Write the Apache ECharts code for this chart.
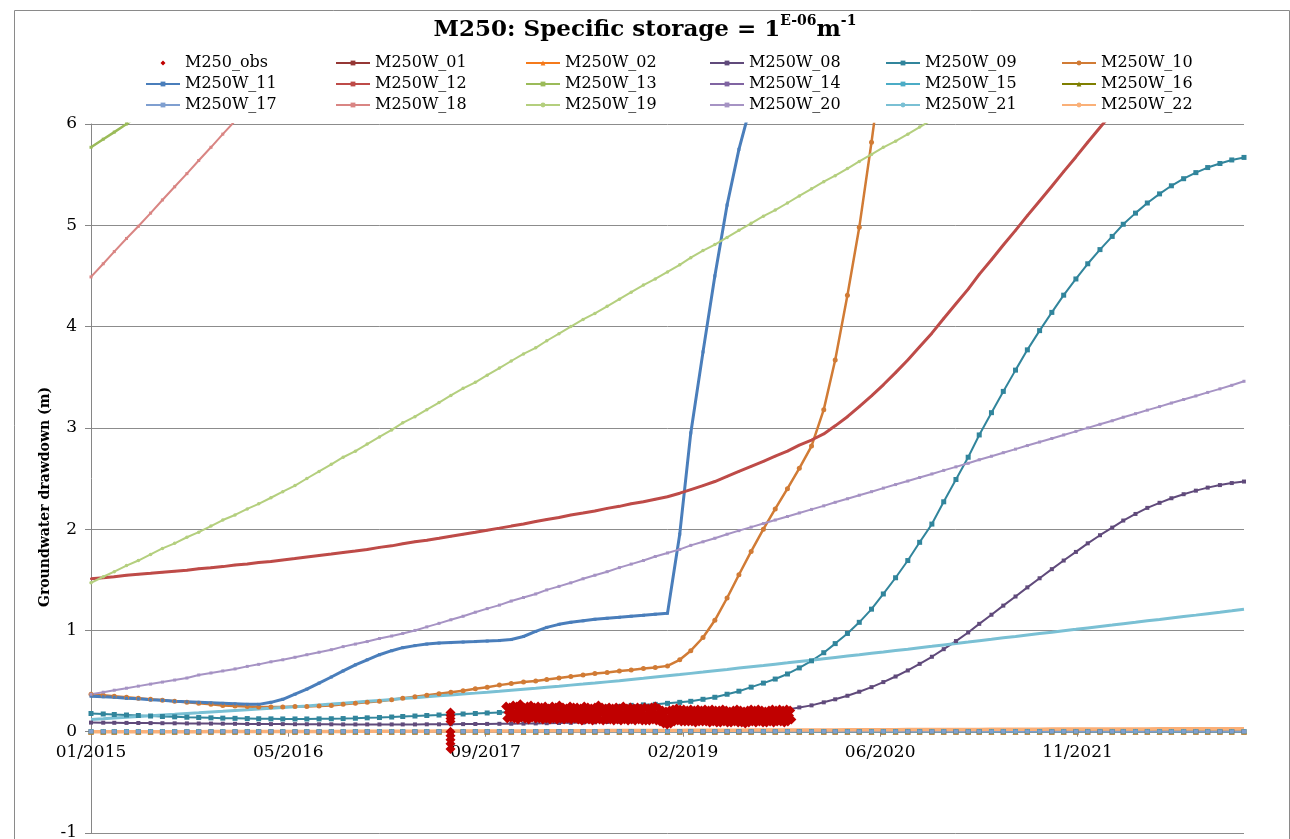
<!DOCTYPE html>
<html><head><meta charset="utf-8">
<script src="https://cdn.jsdelivr.net/npm/echarts@6/dist/echarts.min.js"></script>
<style>html,body{margin:0;padding:0;background:#fff}#c{width:1290px;height:839px}</style>
</head><body><div id="c"></div>
<script>
// ---- data (monthly model values, first value = 01/2015) ----
const seriesNames = ['M250_obs','M250W_01','M250W_02','M250W_08','M250W_09','M250W_10','M250W_11','M250W_12','M250W_13','M250W_14','M250W_15','M250W_16','M250W_17','M250W_18','M250W_19','M250W_20','M250W_21','M250W_22'];
const xTickDays = 500; // Excel major unit (days)
const startDate = Date.UTC(2015,0,1);
const endDate = Date.UTC(2023,0,1);

const w01 = [0,0,0,0,0,0,0,0,0,0,0,0,0,0,0,0,0,0,0,0,0,0,0,0,0,0,0,0,0,0,0,0,0,0,0,0,0,0,0,0,0,0,0,0,0,0,0,0,0,0,0,0,0,0,0,0,0,0,0,0,0,0,0,0,0,0,0,0,0,0,0,0,0,0,0,0,0,0,0,0,0,0,0,0,0,0,0,0,0,0,0,0,0,0,0,0,0];
const w02 = [0,0,0,0,0,0,0,0,0,0,0,0,0,0,0,0,0,0,0,0,0,0,0,0,0,0,0,0,0,0,0,0,0,0,0,0,0,0,0,0,0,0,0,0,0,0,0,0,0,0,0,0,0,0,0,0,0,0,0,0,0,0,0,0,0,0,0,0,0,0,0,0,0,0,0,0,0,0,0,0,0,0,0,0,0,0,0,0,0,0,0,0,0,0,0,0,0];
const w08 = [0.09,0.089,0.088,0.087,0.086,0.085,0.084,0.083,0.082,0.081,0.08,0.079,0.078,0.077,0.076,0.075,0.075,0.074,0.074,0.073,0.073,0.072,0.072,0.072,0.072,0.072,0.072,0.072,0.073,0.073,0.074,0.075,0.076,0.077,0.078,0.079,0.08,0.082,0.084,0.086,0.088,0.09,0.093,0.096,0.099,0.102,0.106,0.11,0.115,0.12,0.126,0.133,0.141,0.15,0.16,0.172,0.186,0.202,0.22,0.24,0.26,0.29,0.32,0.355,0.395,0.44,0.49,0.545,0.605,0.67,0.74,0.815,0.895,0.98,1.065,1.155,1.245,1.335,1.425,1.515,1.605,1.69,1.775,1.86,1.94,2.015,2.085,2.15,2.21,2.26,2.305,2.345,2.38,2.41,2.435,2.455,2.47];
const w09 = [0.18,0.175,0.17,0.165,0.16,0.155,0.15,0.147,0.143,0.14,0.137,0.134,0.132,0.13,0.128,0.127,0.126,0.126,0.126,0.127,0.128,0.13,0.133,0.137,0.14,0.145,0.15,0.155,0.16,0.165,0.17,0.175,0.18,0.185,0.19,0.195,0.20,0.205,0.21,0.215,0.22,0.23,0.24,0.245,0.25,0.26,0.265,0.27,0.28,0.29,0.30,0.32,0.34,0.37,0.40,0.44,0.48,0.52,0.57,0.63,0.70,0.78,0.87,0.97,1.08,1.21,1.36,1.52,1.69,1.87,2.05,2.27,2.49,2.71,2.93,3.15,3.36,3.57,3.77,3.96,4.14,4.31,4.47,4.62,4.76,4.89,5.01,5.12,5.22,5.31,5.39,5.46,5.52,5.57,5.61,5.645,5.67];
const w10 = [0.37,0.36,0.35,0.34,0.33,0.32,0.31,0.30,0.29,0.28,0.27,0.26,0.255,0.25,0.245,0.245,0.245,0.25,0.25,0.255,0.26,0.27,0.28,0.29,0.30,0.315,0.33,0.345,0.36,0.375,0.39,0.405,0.425,0.44,0.46,0.475,0.49,0.50,0.515,0.53,0.545,0.56,0.575,0.585,0.60,0.61,0.625,0.635,0.65,0.71,0.80,0.93,1.10,1.32,1.55,1.78,2.0,2.2,2.4,2.6,2.82,3.18,3.67,4.31,4.98,5.82,6.7];
const w11 = [0.35,0.345,0.34,0.33,0.325,0.315,0.31,0.30,0.295,0.29,0.285,0.28,0.275,0.27,0.27,0.29,0.32,0.37,0.42,0.48,0.54,0.60,0.66,0.71,0.76,0.80,0.83,0.85,0.865,0.875,0.88,0.885,0.89,0.895,0.90,0.91,0.94,0.99,1.03,1.06,1.08,1.095,1.11,1.12,1.13,1.14,1.15,1.16,1.17,1.95,2.95,3.75,4.5,5.2,5.75,6.2];
const w12 = [1.51,1.52,1.53,1.545,1.555,1.565,1.575,1.585,1.595,1.61,1.62,1.63,1.645,1.655,1.67,1.68,1.695,1.71,1.725,1.74,1.755,1.77,1.785,1.80,1.82,1.835,1.855,1.875,1.89,1.91,1.93,1.95,1.97,1.99,2.01,2.03,2.05,2.075,2.095,2.115,2.14,2.16,2.18,2.205,2.225,2.25,2.27,2.295,2.32,2.355,2.39,2.43,2.47,2.52,2.57,2.62,2.67,2.72,2.77,2.83,2.88,2.94,3.02,3.11,3.21,3.315,3.425,3.545,3.67,3.80,3.935,4.08,4.225,4.37,4.515,4.66,4.805,4.95,5.095,5.24,5.385,5.53,5.675,5.82,5.965,6.11];
const w13 = [5.77,5.85,5.92,6.0,6.08];
const w14 = w01.slice();
const w15 = w01.slice();
const w16 = w01.slice();
const w17 = w01.slice();
const w18 = [4.49,4.62,4.74,4.87,4.99,5.12,5.25,5.38,5.51,5.64,5.77,5.90,6.03,6.16];
const w19 = [1.47,1.53,1.58,1.64,1.69,1.75,1.81,1.86,1.92,1.97,2.03,2.09,2.14,2.20,2.25,2.31,2.37,2.43,2.50,2.57,2.64,2.71,2.77,2.84,2.91,2.98,3.05,3.11,3.18,3.25,3.32,3.39,3.45,3.52,3.59,3.66,3.73,3.79,3.86,3.93,4.00,4.07,4.13,4.20,4.27,4.34,4.41,4.47,4.54,4.61,4.68,4.75,4.81,4.88,4.95,5.02,5.09,5.15,5.22,5.29,5.36,5.43,5.49,5.56,5.63,5.70,5.77,5.83,5.90,5.97,6.04,6.11];
const w20 = [0.37,0.39,0.41,0.43,0.45,0.47,0.49,0.51,0.53,0.56,0.58,0.60,0.62,0.645,0.665,0.69,0.71,0.735,0.76,0.785,0.81,0.84,0.865,0.89,0.92,0.945,0.97,1.0,1.035,1.07,1.105,1.14,1.18,1.215,1.25,1.29,1.325,1.36,1.40,1.435,1.47,1.51,1.545,1.58,1.62,1.655,1.69,1.73,1.765,1.80,1.84,1.875,1.91,1.95,1.985,2.02,2.055,2.09,2.125,2.16,2.195,2.23,2.265,2.30,2.335,2.37,2.405,2.44,2.475,2.51,2.545,2.58,2.615,2.65,2.685,2.72,2.755,2.79,2.825,2.86,2.895,2.93,2.965,3.0,3.035,3.07,3.105,3.14,3.175,3.21,3.245,3.28,3.315,3.35,3.385,3.42,3.46];
const w21 = [0.12,0.127,0.135,0.142,0.15,0.157,0.165,0.172,0.18,0.187,0.195,0.202,0.21,0.217,0.225,0.232,0.24,0.247,0.255,0.264,0.273,0.282,0.291,0.30,0.309,0.318,0.327,0.336,0.345,0.354,0.363,0.372,0.381,0.39,0.40,0.41,0.42,0.43,0.44,0.45,0.46,0.47,0.48,0.492,0.504,0.516,0.528,0.54,0.552,0.564,0.576,0.589,0.602,0.615,0.628,0.641,0.654,0.667,0.68,0.693,0.706,0.72,0.733,0.747,0.76,0.774,0.787,0.801,0.815,0.829,0.843,0.857,0.871,0.885,0.899,0.913,0.927,0.941,0.955,0.969,0.983,0.997,1.011,1.025,1.039,1.053,1.067,1.081,1.095,1.109,1.123,1.137,1.151,1.165,1.179,1.194,1.21];
const w22 = [0,0,0,0,0,0,0,0,0,0,0.001,0.001,0.001,0.001,0.002,0.002,0.002,0.002,0.003,0.003,0.003,0.003,0.004,0.004,0.004,0.004,0.005,0.005,0.005,0.006,0.006,0.006,0.007,0.007,0.007,0.008,0.008,0.008,0.009,0.009,0.01,0.01,0.01,0.011,0.011,0.012,0.012,0.012,0.013,0.013,0.014,0.014,0.014,0.015,0.015,0.016,0.016,0.016,0.017,0.017,0.018,0.018,0.018,0.019,0.019,0.02,0.02,0.02,0.021,0.021,0.022,0.022,0.022,0.023,0.023,0.024,0.024,0.024,0.025,0.025,0.026,0.026,0.026,0.027,0.027,0.027,0.028,0.028,0.028,0.029,0.029,0.029,0.029,0.03,0.03,0.03,0.03];

// observed drawdown (logger readings, every 3 days from obsStart)
const obsEarlyDate = '2017-06-30';
const obsEarlyVals = [0.19,0.16,0.13,0.10,0.0,-0.04,-0.08,-0.12,-0.17];
const obsStart = '2017-11-18';
const obsStepDays = 3;
const obsVals = [
0.25,0.13,0.19, 0.24,0.14,0.20, 0.26,0.13,0.18, 0.25,0.12,0.19, 0.27,0.14,0.20, 0.24,0.13,0.18, 0.25,0.12,0.19, 0.26,0.14,0.20, 0.24,0.13,0.18, 0.25,0.13,0.19,
0.24,0.12,0.18, 0.25,0.13,0.19, 0.23,0.12,0.18, 0.25,0.13,0.19, 0.24,0.12,0.17, 0.26,0.13,0.19, 0.24,0.12,0.18, 0.23,0.13,0.18, 0.25,0.12,0.19, 0.24,0.13,0.18,
0.24,0.12,0.18, 0.23,0.11,0.17, 0.25,0.12,0.18, 0.24,0.12,0.18, 0.23,0.11,0.17, 0.24,0.12,0.18, 0.26,0.12,0.19, 0.24,0.11,0.17, 0.23,0.12,0.18, 0.24,0.12,0.18,
0.23,0.11,0.17, 0.24,0.12,0.18, 0.23,0.11,0.17, 0.25,0.12,0.18, 0.23,0.11,0.17, 0.24,0.12,0.18, 0.23,0.11,0.17, 0.24,0.12,0.18, 0.23,0.11,0.17, 0.24,0.11,0.17,
0.23,0.11,0.17, 0.24,0.12,0.18, 0.25,0.11,0.17, 0.23,0.10,0.16, 0.21,0.08,0.14, 0.20,0.07,0.13, 0.21,0.08,0.15, 0.22,0.10,0.16, 0.23,0.11,0.17, 0.22,0.10,0.16,
0.22,0.10,0.16, 0.21,0.10,0.15, 0.22,0.10,0.16, 0.21,0.09,0.15, 0.22,0.10,0.16, 0.21,0.10,0.15, 0.22,0.10,0.16, 0.21,0.09,0.15, 0.22,0.10,0.16, 0.21,0.09,0.15,
0.21,0.09,0.15, 0.22,0.10,0.16, 0.21,0.09,0.15, 0.20,0.09,0.15, 0.21,0.10,0.16, 0.22,0.09,0.15, 0.21,0.09,0.15, 0.20,0.08,0.14, 0.21,0.09,0.15, 0.22,0.10,0.16,
0.21,0.09,0.15, 0.22,0.10,0.16, 0.21,0.09,0.15, 0.20,0.09,0.14, 0.21,0.10,0.15, 0.22,0.09,0.16, 0.21,0.10,0.15, 0.22,0.10,0.16, 0.21,0.09,0.15, 0.22,0.10,0.16,
0.21,0.12];

const yTicks = {min:-1, max:6, interval:1};

// ---- helpers ----
const DAY = 86400000;
const dayOfMonth = m => (Date.UTC(2015, m, 1) - startDate) / DAY;
const dayOfStr = s => { const p = s.split('-').map(Number); return (Date.UTC(p[0], p[1]-1, p[2]) - startDate) / DAY; };
const monthly = arr => arr.map((v,i) => [dayOfMonth(i), v]);
const obsData = obsEarlyVals.map(v => [dayOfStr(obsEarlyDate), v])
  .concat(obsVals.map((v,i) => [dayOfStr(obsStart) + i*obsStepDays, v]));

const FONT = 'DejaVu Serif';
const style = {
 'M250W_01':{c:'#953735',s:'rect',z:5,w:2},
 'M250W_02':{c:'#F57A1B',s:'triangle',z:6,w:2},
 'M250W_08':{c:'#604A7B',s:'rect',z:4,w:2},
 'M250W_09':{c:'#31859C',s:'rect',z:5,w:2},
 'M250W_10':{c:'#D17B35',s:'circle',z:5,w:2.5},
 'M250W_11':{c:'#4A7EBB',s:'rect',z:3,w:3},
 'M250W_12':{c:'#BE4B48',s:'rect',z:2,w:3},
 'M250W_13':{c:'#9BBB59',s:'rect',z:3,w:2.5},
 'M250W_14':{c:'#8064A2',s:'rect',z:4,w:2},
 'M250W_15':{c:'#4BACC6',s:'rect',z:5,w:2},
 'M250W_16':{c:'#7F7F00',s:'triangle',z:5,w:2},
 'M250W_17':{c:'#7F9FD0',s:'rect',z:4,w:2},
 'M250W_18':{c:'#D98583',s:'rect',z:3,w:2},
 'M250W_19':{c:'#B4CF7E',s:'circle',z:3.5,w:2},
 'M250W_20':{c:'#A693C4',s:'rect',z:3,w:2},
 'M250W_21':{c:'#7AC0D4',s:'none',z:0,w:3},
 'M250W_22':{c:'#FAB078',s:'none',z:0,w:3.5}
};
const values = {M250W_01:w01,M250W_02:w02,M250W_08:w08,M250W_09:w09,M250W_10:w10,M250W_11:w11,M250W_12:w12,M250W_13:w13,M250W_14:w14,M250W_15:w15,M250W_16:w16,M250W_17:w17,M250W_18:w18,M250W_19:w19,M250W_20:w20,M250W_21:w21,M250W_22:w22};

const series = [{
  name:'M250_obs', type:'scatter', data: obsData, symbol:'diamond', symbolSize:10,
  itemStyle:{color:'#C00000', opacity:1}, z:10, animation:false
}];
seriesNames.slice(1).forEach(n => {
  const st = style[n];
  series.push({
    name:n, type:'line', data: monthly(values[n]), symbol: st.s, symbolSize: st.z, showSymbol: st.s !== 'none',
    lineStyle:{color:st.c, width:st.w}, itemStyle:{color:st.c}, clip:true, animation:false
  });
});

const legendBase = {orient:'vertical', itemGap:5, itemWidth:34, itemHeight:6, itemTextGap:4,
  textStyle:{fontFamily:FONT, fontSize:16, color:'#000'}};
const obsIcon = 'path://M0,0L0.01,0.01M34,6L33.99,5.99M17,0.5L19.5,3L17,5.5L14.5,3Z';
const legendCols = [
  {left:140, data:[{name:'M250_obs', icon:obsIcon},'M250W_11','M250W_17']},
  {left:330, data:['M250W_01','M250W_12','M250W_18']},
  {left:520, data:['M250W_02','M250W_13','M250W_19']},
  {left:704, data:['M250W_08','M250W_14','M250W_20']},
  {left:880, data:['M250W_09','M250W_15','M250W_21']},
  {left:1056, data:['M250W_10','M250W_16','M250W_22']}
];
const legends = legendCols.map(c => Object.assign({top:50}, legendBase, c));

const gridTop = 124, gridBottom = 6, chartH = 839;
const plotH = chartH - gridTop - gridBottom;
const zeroOffset = -plotH * (0 - yTicks.min) / (yTicks.max - yTicks.min);

const pad = n => (n<10?'0':'')+n;
const option = {
  animation:false,
  backgroundColor:'#fff',
  title:{
    text:'{b|M250: Specific storage = 1}{s|E-06}{b|m}{s|-1}',
    left:'center', top:9,
    textStyle:{rich:{
      b:{fontFamily:FONT, fontWeight:'bold', fontSize:23, color:'#000', lineHeight:28, verticalAlign:'bottom'},
      s:{fontFamily:FONT, fontWeight:'bold', fontSize:14, color:'#000', lineHeight:28, verticalAlign:'top'}
    }}
  },
  legend: legends,
  grid:{left:91, right:46, top:gridTop, bottom:gridBottom, containLabel:false, outerBoundsMode:'none'},
  xAxis:{
    type:'value', min:0, max:(endDate-startDate)/DAY, interval:xTickDays,
    offset: zeroOffset,
    axisLine:{onZero:false, lineStyle:{color:'#868686', width:1}},
    axisTick:{show:true, length:5, lineStyle:{color:'#868686'}},
    axisLabel:{showMaxLabel:false, margin:12, fontFamily:FONT, fontSize:17, color:'#000',
      formatter: v => { const d = new Date(startDate + v*DAY); return pad(d.getUTCMonth()+1) + '/' + d.getUTCFullYear(); }},
    splitLine:{show:false}
  },
  yAxis:{
    type:'value', min:yTicks.min, max:yTicks.max, interval:yTicks.interval,
    axisLine:{show:true, lineStyle:{color:'#868686'}},
    axisTick:{show:true, length:6, lineStyle:{color:'#868686'}},
    axisLabel:{margin:14, fontFamily:FONT, fontSize:17, color:'#000'},
    splitLine:{show:true, lineStyle:{color:'#8c8c8c', width:1}}
  },
  graphic:[
    {type:'rect', left:12, top:8, shape:{width:1275, height:850}, style:{fill:'none', stroke:'#8a8a8a', lineWidth:1}, silent:true, z:-10},
    {type:'text', x:45, y:497, rotation:Math.PI/2, style:{text:'Groundwater drawdown (m)', fontFamily:FONT, fontWeight:'bold', fontSize:14, fill:'#000', align:'center', verticalAlign:'middle'}}
  ],
  series: series
};
const chart = echarts.init(document.getElementById('c'), null, {renderer:'canvas'});
chart.setOption(option);
</script></body></html>
